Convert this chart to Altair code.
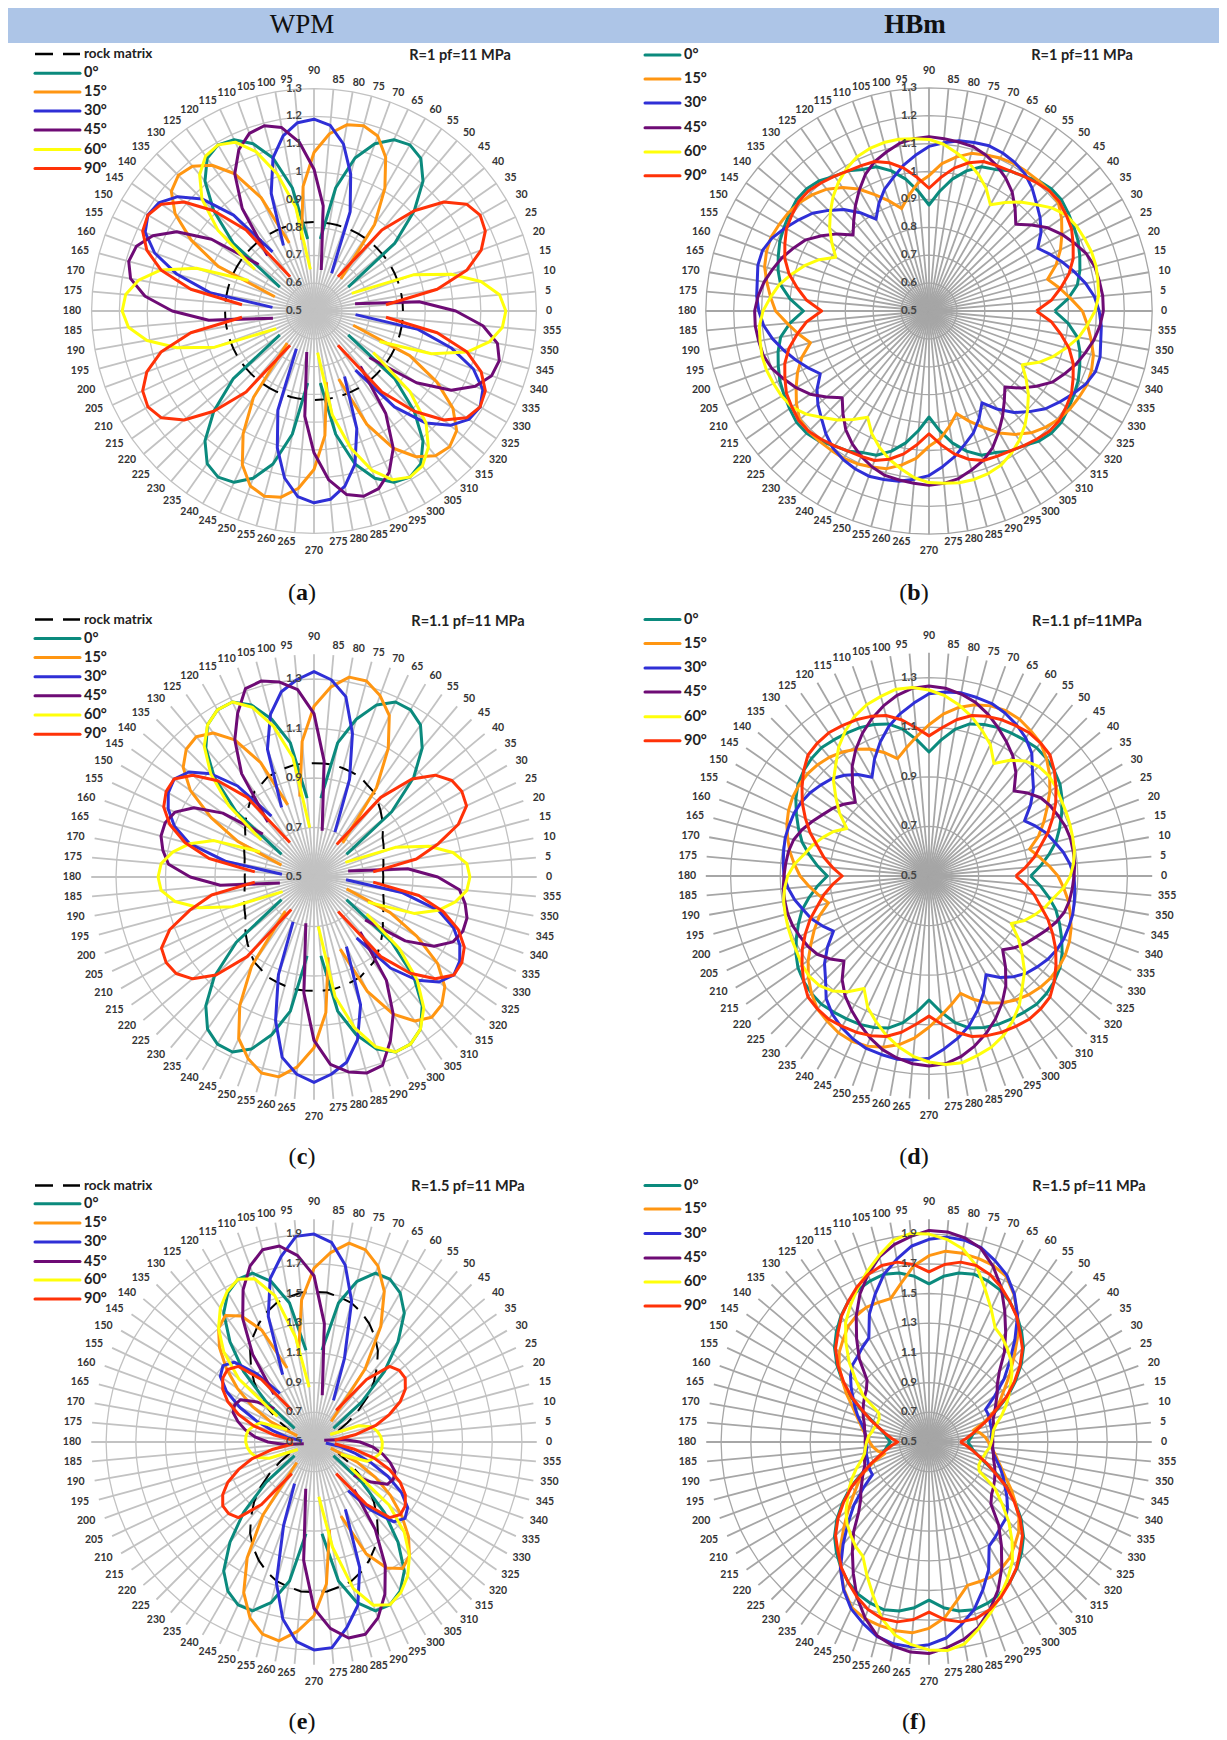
import math
import altair as alt
import pandas as pd

NAMES = ["0°", "15°", "30°", "45°", "60°", "90°"]
ANGLES = list(range(0, 360, 5))

# ---- WPM panel (a): lobe values, rising and falling, and start angles
A_UP = [.65, .88, 1.01, 1.11, 1.17, 1.19, 1.18, 1.14, 1.07, .95, .76]
A_DN = [.76, .95, 1.07, 1.14, 1.18, 1.19, 1.17, 1.11, 1.01, .88, .65]
A_LOBES = [
    [(35, A_UP), (95, A_DN)],
    [(50, A_UP), (110, A_DN)],
    [(65, A_UP), (125, A_DN)],
    [(80, A_UP), (140, A_DN)],
    [(95, A_UP), (155, A_DN)],
    [(5, A_DN), (125, A_UP)],
]
A_ROCK = [.82] * 36

# ---- WPM panel (c)
C0a = [.66, .91, 1.07, 1.18, 1.25, 1.28, 1.28, 1.24, 1.16, 1.05, .82]
C0b = [.82, 1.05, 1.16, 1.24, 1.28, 1.28, 1.25, 1.18, 1.07, .91, .66]
C15a = [.68, .94, 1.10, 1.22, 1.28, 1.32, 1.32, 1.27, 1.19, 1.05, .83]
C15b = [.81, 1.01, 1.14, 1.21, 1.24, 1.23, 1.19, 1.11, .98, .84, .64]
C30a = [.70, .92, 1.10, 1.24, 1.30, 1.33, 1.30, 1.26, 1.18, 1.05, .81]
C30b = [.80, .98, 1.09, 1.16, 1.19, 1.18, 1.15, 1.10, 1.02, .86, .63]
C45a = [.69, .97, 1.16, 1.26, 1.30, 1.32, 1.31, 1.23, 1.14, 1.01, .79]
C45b = [.77, .95, 1.06, 1.12, 1.14, 1.14, 1.12, 1.09, 1.0, .88, .64]
C60a = [.70, .99, 1.13, 1.23, 1.28, 1.28, 1.25, 1.19, 1.09, .95, .76]
C60b = [.74, .93, 1.02, 1.08, 1.12, 1.13, 1.12, 1.07, .98, .85, .64]
C90a = [.74, .92, 1.02, 1.12, 1.18, 1.19, 1.18, 1.14, 1.06, .92, .66]
C90b = [.67, .92, 1.05, 1.14, 1.19, 1.19, 1.17, 1.12, 1.04, .93, .74]
C_LOBES = [
    [(35, C0a), (95, C0b)],
    [(50, C15a), (110, C15b)],
    [(65, C30a), (125, C30b)],
    [(80, C45a), (140, C45b)],
    [(95, C60a), (155, C60b)],
    [(5, C90a), (125, C90b)],
]
C_ROCK = [.78, .78, .785, .79, .80, .81, .82, .84, .86, .88, .90, .92,
          .93, .945, .95, .955, .96, .96, .96, .96, .96, .955, .95, .945,
          .93, .92, .90, .88, .86, .84, .82, .81, .80, .79, .785, .78]

# ---- WPM panel (e)
E0a = [.66, .92, 1.17, 1.38, 1.56, 1.66, 1.71, 1.71, 1.62, 1.45, 1.12]
E0b = [1.12, 1.45, 1.62, 1.71, 1.71, 1.66, 1.56, 1.38, 1.17, .92, .66]
E15a = [.68, 1.10, 1.40, 1.62, 1.76, 1.84, 1.86, 1.78, 1.67, 1.46, 1.10]
E15b = [1.03, 1.33, 1.48, 1.54, 1.50, 1.40, 1.27, 1.13, .98, .82, .62]
E30a = [.81, 1.10, 1.48, 1.71, 1.85, 1.90, 1.89, 1.77, 1.64, 1.40, 1.0]
E30b = [.90, 1.10, 1.26, 1.30, 1.27, 1.18, 1.05, .91, .78, .68, .58]
E45a = [.82, 1.30, 1.62, 1.76, 1.84, 1.84, 1.76, 1.63, 1.46, 1.22, .92]
E45b = [.85, .97, 1.07, 1.09, 1.08, 1.03, .97, .90, .81, .70, .57]
E60a = [.87, 1.22, 1.52, 1.67, 1.71, 1.67, 1.60, 1.50, 1.36, 1.16, .80]
E60b = [.70, .88, .92, .95, .96, .96, .95, .93, .90, .82, .62]
E90a = [.64, .78, .93, 1.04, 1.14, 1.21, 1.25, 1.25, 1.22, 1.05, .76]
E90b = [.76, 1.05, 1.22, 1.26, 1.25, 1.21, 1.14, 1.04, .92, .77, .64]
E_LOBES = [
    [(35, E0a), (95, E0b)],
    [(50, E15a), (110, E15b)],
    [(65, E30a), (125, E30b)],
    [(80, E45a), (140, E45b)],
    [(95, E60a), (155, E60b)],
    [(5, E90a), (125, E90b)],
]
E_ROCK = [None, None, None, None, None, .68, .76, .86, .97, 1.07, 1.16, 1.25,
          1.32, 1.38, 1.43, 1.47, 1.49, 1.51, 1.51, 1.51, 1.49, 1.47, 1.43, 1.38,
          1.32, 1.25, 1.16, 1.07, .97, .86, .76, .68, None, None, None, None]

# ---- HBm panel (b): values for 0, 5, ... 175 degrees
B0 = [.95, 1.00, 1.04, 1.06, 1.075, 1.09, 1.10, 1.11, 1.12, 1.12, 1.11, 1.09,
      1.08, 1.06, 1.05, 1.02, .98, .93, .88, .93, .98, 1.02, 1.05, 1.06,
      1.08, 1.09, 1.11, 1.12, 1.12, 1.11, 1.10, 1.09, 1.075, 1.06, 1.04, 1.00]
B15 = [1.05, 1.01, .975, .94, .985, 1.02, 1.05, 1.08, 1.105, 1.11, 1.11, 1.11,
       1.11, 1.105, 1.095, 1.085, 1.06, 1.03, .985, .96, .92, .88, .92, .96,
       1.005, 1.04, 1.07, 1.09, 1.105, 1.115, 1.12, 1.125, 1.12, 1.11, 1.09, 1.07]
B30 = [1.11, 1.095, 1.07, 1.04, 1.01, .98, .95, .99, 1.02, 1.045, 1.075, 1.10,
       1.115, 1.125, 1.13, 1.125, 1.12, 1.105, 1.09, 1.06, 1.03, .995, .965, .925,
       .88, .93, .975, 1.01, 1.045, 1.07, 1.095, 1.12, 1.135, 1.135, 1.125, 1.12]
B45 = [1.125, 1.125, 1.12, 1.115, 1.10, 1.075, 1.05, 1.02, .98, .94, .98, 1.02,
       1.05, 1.075, 1.095, 1.11, 1.115, 1.12, 1.125, 1.12, 1.11, 1.09, 1.07, 1.04,
       1.0, .96, .92, .885, .93, .97, 1.01, 1.035, 1.06, 1.08, 1.10, 1.115]
B60 = [1.095, 1.11, 1.115, 1.12, 1.12, 1.115, 1.11, 1.10, 1.075, 1.04, 1.01, .975,
       .94, .985, 1.02, 1.05, 1.075, 1.10, 1.115, 1.12, 1.125, 1.125, 1.12, 1.11,
       1.09, 1.065, 1.035, 1.0, .965, .925, .886, .935, .975, 1.01, 1.045, 1.07]
B90 = [.885, .94, .98, 1.02, 1.05, 1.07, 1.09, 1.10, 1.11, 1.11, 1.10, 1.09,
       1.08, 1.075, 1.07, 1.05, 1.02, .98, .94, .98, 1.02, 1.05, 1.07, 1.075,
       1.08, 1.09, 1.10, 1.11, 1.11, 1.10, 1.09, 1.07, 1.05, 1.02, .98, .94]

# ---- HBm panel (d)
D0 = [.91, .95, .99, 1.03, 1.06, 1.09, 1.12, 1.145, 1.16, 1.17, 1.175, 1.17,
      1.165, 1.16, 1.15, 1.135, 1.10, 1.05, 1.0, 1.05, 1.10, 1.135, 1.15, 1.16,
      1.165, 1.17, 1.175, 1.17, 1.16, 1.145, 1.12, 1.09, 1.06, 1.03, .99, .95]
D15 = [1.02, .985, .95, .92, .97, 1.01, 1.05, 1.095, 1.135, 1.17, 1.20, 1.215,
       1.23, 1.235, 1.23, 1.215, 1.19, 1.155, 1.11, 1.065, 1.025, .99, 1.03, 1.065,
       1.09, 1.11, 1.125, 1.135, 1.14, 1.14, 1.135, 1.125, 1.11, 1.09, 1.07, 1.045]
D30 = [1.085, 1.07, 1.05, 1.025, 1.005, .975, .945, 1.0, 1.05, 1.09, 1.145, 1.18,
       1.205, 1.225, 1.24, 1.245, 1.25, 1.245, 1.235, 1.20, 1.165, 1.125, 1.075, 1.02,
       .96, 1.0, 1.03, 1.055, 1.07, 1.085, 1.095, 1.10, 1.10, 1.10, 1.095, 1.09]
D45 = [1.085, 1.09, 1.09, 1.09, 1.085, 1.075, 1.065, 1.05, 1.02, .985, 1.045, 1.09,
       1.125, 1.16, 1.195, 1.225, 1.245, 1.26, 1.266, 1.26, 1.24, 1.21, 1.175, 1.135,
       1.09, 1.04, .98, .92, .95, .975, .995, 1.02, 1.045, 1.065, 1.075, 1.08]
D60 = [1.07, 1.085, 1.095, 1.10, 1.105, 1.11, 1.115, 1.125, 1.13, 1.125, 1.105, 1.07,
       1.024, 1.085, 1.125, 1.165, 1.20, 1.23, 1.25, 1.263, 1.265, 1.25, 1.235, 1.21,
       1.175, 1.135, 1.085, 1.045, .99, .94, .883, .925, .955, .985, 1.01, 1.045]
D90 = [.85, .89, .93, .965, 1.01, 1.05, 1.09, 1.125, 1.16, 1.19, 1.20, 1.205,
       1.20, 1.195, 1.185, 1.17, 1.14, 1.10, 1.065, 1.10, 1.14, 1.17, 1.185, 1.195,
       1.20, 1.205, 1.20, 1.19, 1.16, 1.125, 1.09, 1.05, 1.01, .965, .93, .89]

# ---- HBm panel (f)
F0 = [.76, .78, .80, .84, .90, 1.0, 1.11, 1.21, 1.31, 1.40, 1.47, 1.535,
      1.59, 1.63, 1.655, 1.67, 1.655, 1.62, 1.565, 1.62, 1.655, 1.67, 1.655, 1.63,
      1.59, 1.535, 1.47, 1.40, 1.31, 1.21, 1.11, 1.0, .90, .84, .80, .78]
F15 = [.90, .88, .85, .81, .90, .98, 1.05, 1.12, 1.21, 1.31, 1.43, 1.54,
       1.645, 1.73, 1.765, 1.78, 1.79, 1.79, 1.755, 1.69, 1.585, 1.50, 1.50, 1.50,
       1.48, 1.45, 1.40, 1.355, 1.29, 1.21, 1.14, 1.07, 1.02, .98, .95, .92]
F30 = [.92, .92, .93, .93, .935, .94, .94, 1.04, 1.16, 1.27, 1.40, 1.54,
       1.65, 1.74, 1.80, 1.855, 1.88, 1.885, 1.865, 1.825, 1.75, 1.67, 1.56, 1.45,
       1.31, 1.28, 1.25, 1.23, 1.19, 1.14, 1.09, 1.05, 1.01, .97, .94, .93]
F45 = [.93, .93, .94, .95, .96, .99, 1.02, 1.06, 1.10, 1.17, 1.29, 1.40,
       1.52, 1.65, 1.76, 1.85, 1.895, 1.92, 1.925, 1.89, 1.85, 1.79, 1.70, 1.60,
       1.48, 1.35, 1.23, 1.09, 1.05, 1.03, 1.01, .99, .97, .95, .94, .93]
F60 = [.92, .93, .94, .97, 1.02, 1.07, 1.12, 1.17, 1.23, 1.28, 1.32, 1.36,
       1.39, 1.49, 1.60, 1.73, 1.82, 1.87, 1.90, 1.91, 1.88, 1.80, 1.72, 1.64,
       1.56, 1.48, 1.37, 1.26, 1.14, 1.04, .89, .87, .87, .88, .89, .91]
F90 = [.71, .75, .79, .84, .91, .99, 1.10, 1.20, 1.30, 1.39, 1.455, 1.53,
       1.59, 1.65, 1.70, 1.73, 1.73, 1.70, 1.645, 1.70, 1.73, 1.73, 1.70, 1.65,
       1.59, 1.53, 1.455, 1.39, 1.30, 1.20, 1.10, .99, .91, .84, .79, .75]

TICKS_AB = [.5, .6, .7, .8, .9, 1.0, 1.1, 1.2, 1.3]
TICK_TEXT_AB = ["0.5", "0.6", "0.7", "0.8", "0.9", "1", "1.1", "1.2", "1.3"]
TICKS_CD = [.5, .7, .9, 1.1, 1.3]
TICK_TEXT_CD = ["0.5", "0.7", "0.9", "1.1", "1.3"]
TICKS_EF = [.5, .7, .9, 1.1, 1.3, 1.5, 1.7, 1.9]
TICK_TEXT_EF = ["0.5", "0.7", "0.9", "1.1", "1.3", "1.5", "1.7", "1.9"]

COL_ORANGE, COL_PURPLE, COL_YELLOW, COL_RED = "#ff9612", "#6e0b75", "#ffff0a", "#ff3208"
ROW_BLUE = ["#2f2fd6", "#3434f4", "#3434f4"]
COL_GREEN = ["#0b8a7d", "#04695e"]

LABEL_FONT = "Lato"
SERIF = "Liberation Serif"
ROW_Y0 = [43, 610, 1170]
ROW_H = [567, 560, 562]
COL_X0 = [8, 618]
COL_W = [610, 601]


def panel(col, row, cx, cy, k, vmax, ticks, tick_text, title, title_xy, letter, cap_xy,
          legend_ys, rock_y=None, rock=None, lobes=None, curves=None):
    x0, y0, W, H = COL_X0[col], ROW_Y0[row], COL_W[col], ROW_H[row]
    px = lambda X: (X - x0 - cx) / k
    py = lambda Y: (cy - (Y - y0)) / k
    xs = alt.Scale(domain=[-cx / k, (W - cx) / k], nice=False, zero=False)
    ys = alt.Scale(domain=[(cy - H) / k, cy / k], nice=False, zero=False)
    X = lambda f: alt.X(f, type="quantitative", scale=xs, axis=None)
    Y = lambda f: alt.Y(f, type="quantitative", scale=ys, axis=None)
    colors = [COL_GREEN[col], COL_ORANGE, ROW_BLUE[row], COL_PURPLE, COL_YELLOW, COL_RED]
    grid_col = "#c2c2c2" if col == 0 else "#a6a6a6"
    col_scale = alt.Scale(domain=NAMES, range=colors)
    cos = lambda a: math.cos(math.radians(a))
    sin = lambda a: math.sin(math.radians(a))

    spokes = pd.DataFrame([{"x": 0.0, "y": 0.0, "x2": (vmax - .5) * cos(a), "y2": (vmax - .5) * sin(a)} for a in ANGLES])
    layers = [alt.Chart(spokes).mark_rule(color=grid_col, strokeWidth=1.8).encode(
        x=X("x"), y=Y("y"), x2=alt.X2("x2"), y2=alt.Y2("y2"))]

    ring_rows = []
    for t in ticks[1:]:
        for i, a in enumerate(ANGLES + [360]):
            ring_rows.append({"x": (t - .5) * cos(a), "y": (t - .5) * sin(a), "level": t, "i": i})
    layers.append(alt.Chart(pd.DataFrame(ring_rows)).mark_line(color=grid_col, strokeWidth=1.3).encode(
        x=X("x"), y=Y("y"), detail="level:N", order="i:Q"))

    label_rows = []
    for a in ANGLES:
        t = str(a)
        if a in (90, 270):
            lx, ly = 0.0, 240 * sin(a)
        else:
            shift = 0 if len(t) == 1 else (4 if cos(a) > 0 else -7)
            lx, ly = 235 * cos(a) + shift, 232 * sin(a)
        label_rows.append({"x": lx / k, "y": ly / k, "t": t})
    layers.append(alt.Chart(pd.DataFrame(label_rows)).mark_text(
        font=LABEL_FONT, fontWeight="bold", fontSize=10.5, color="#333333", baseline="middle", align="center").encode(
        x=X("x"), y=Y("y"), text="t:N"))

    if rock is not None:
        rock_rows = []
        values = rock + rock + rock[:1]
        for i, v in enumerate(values):
            a = i * 5
            if v is None:
                rock_rows.append({"x": None, "y": None, "i": i})
            else:
                rock_rows.append({"x": (v - .5) * cos(a), "y": (v - .5) * sin(a), "i": i})
        layers.append(alt.Chart(pd.DataFrame(rock_rows)).mark_line(
            color="black", strokeWidth=2, strokeDash=[18, 10]).encode(x=X("x"), y=Y("y"), order="i:Q"))

    rows = []
    seg = 0
    if lobes is not None:
        for name, pair in zip(NAMES, lobes):
            for turn in (0, 180):
                for start, vals in pair:
                    seg += 1
                    for j, v in enumerate(vals):
                        a = start + turn + 5 * j
                        rows.append({"x": (v - .5) * cos(a), "y": (v - .5) * sin(a), "series": name, "seg": seg, "i": j})
    else:
        for name, half in zip(NAMES, curves):
            seg += 1
            values = half + half + half[:1]
            for j, v in enumerate(values):
                a = 5 * j
                rows.append({"x": (v - .5) * cos(a), "y": (v - .5) * sin(a), "series": name, "seg": seg, "i": j})
    layers.append(alt.Chart(pd.DataFrame(rows)).mark_line(strokeWidth=3, strokeJoin="round").encode(
        x=X("x"), y=Y("y"), color=alt.Color("series:N", scale=col_scale, legend=None),
        detail="seg:N", order="i:Q"))

    # radial tick labels sit on top of the curves
    tick_df = pd.DataFrame({"x": [-12 / k] * len(ticks), "y": [t - .5 for t in ticks], "t": tick_text})
    layers.append(alt.Chart(tick_df).mark_text(
        font=LABEL_FONT, fontWeight="bold", fontSize=11.5, color="#444444", baseline="middle", align="right").encode(
        x=X("x"), y=Y("y"), text="t:N"))

    # legend
    rule_x = (35, 80) if col == 0 else (645, 680)
    text_x = 84 if col == 0 else 684
    leg = pd.DataFrame({"x": [px(rule_x[0])] * 6, "x2": [px(rule_x[1])] * 6,
                        "tx": [px(text_x)] * 6, "y": [py(v) for v in legend_ys], "series": NAMES})
    layers.append(alt.Chart(leg).mark_rule(strokeWidth=3, strokeCap="round").encode(
        x=X("x"), x2=alt.X2("x2"), y=Y("y"), color=alt.Color("series:N", scale=col_scale, legend=None)))
    layers.append(alt.Chart(leg).mark_text(
        font=LABEL_FONT, fontWeight="bold", fontSize=14.5, color="#222222", align="left", baseline="middle").encode(
        x=X("tx"), y=Y("y"), text="series:N"))
    if rock_y is not None:
        rl = pd.DataFrame({"x": [px(rule_x[0])], "x2": [px(rule_x[1])], "tx": [px(text_x)], "y": [py(rock_y)], "t": ["rock matrix"]})
        layers.append(alt.Chart(rl).mark_rule(color="black", strokeWidth=2.5, strokeDash=[18, 10]).encode(
            x=X("x"), x2=alt.X2("x2"), y=Y("y")))
        layers.append(alt.Chart(rl).mark_text(
            font=LABEL_FONT, fontWeight="bold", fontSize=13.5, color="#222222", align="left", baseline="middle").encode(
            x=X("tx"), y=Y("y"), text="t:N"))

    # panel heading and caption
    td = pd.DataFrame({"x": [px(title_xy[0])], "y": [py(title_xy[1])], "t": [title]})
    layers.append(alt.Chart(td).mark_text(
        font=LABEL_FONT, fontWeight="bold", fontSize=14.5, color="#222222", align="center", baseline="middle").encode(
        x=X("x"), y=Y("y"), text="t:N"))
    half = {"a": 6, "b": 6.7, "c": 5.4, "d": 6.7, "e": 5.4, "f": 4}[letter]
    par = pd.DataFrame({"x": [px(cap_xy[0] - half - 4), px(cap_xy[0] + half + 4)],
                        "y": [py(cap_xy[1])] * 2, "t": ["(", ")"]})
    layers.append(alt.Chart(par).mark_text(
        font=SERIF, fontSize=24, color="#111111", align="center", baseline="middle").encode(
        x=X("x"), y=Y("y"), text="t:N"))
    let = pd.DataFrame({"x": [px(cap_xy[0])], "y": [py(cap_xy[1])], "t": [letter]})
    layers.append(alt.Chart(let).mark_text(
        font=SERIF, fontWeight="bold", fontSize=24, color="#111111", align="center", baseline="middle").encode(
        x=X("x"), y=Y("y"), text="t:N"))
    return alt.layer(*layers).properties(width=W, height=H)


pa = panel(0, 0, 306, 268, 278, 1.3, TICKS_AB, TICK_TEXT_AB, "R=1 pf=11 MPa", (460, 56), "a", (302, 593),
           [73.3, 92, 111, 130, 149.5, 168.5], rock_y=54, rock=A_ROCK, lobes=A_LOBES)
pb = panel(1, 0, 311, 268, 279, 1.3, TICKS_AB, TICK_TEXT_AB, "R=1 pf=11 MPa", (1082, 56), "b", (914, 593),
           [55, 79, 103, 127.7, 152, 175.7], curves=[B0, B15, B30, B45, B60, B90])
pc = panel(0, 1, 306, 267, 247.5, 1.4, TICKS_CD, TICK_TEXT_CD, "R=1.1 pf=11 MPa", (468, 622), "c", (302, 1157),
           [638.6, 657.5, 676.8, 695.7, 715, 734.3], rock_y=619.6, rock=C_ROCK, lobes=C_LOBES)
pd_ = panel(1, 1, 311, 266, 248, 1.4, TICKS_CD, TICK_TEXT_CD, "R=1.1 pf=11MPa", (1087, 622), "d", (914, 1157),
            [619.6, 643.6, 667.9, 692, 716.8, 740.7], curves=[D0, D15, D30, D45, D60, D90])
pe = panel(0, 2, 306, 272, 148.5, 2.0, TICKS_EF, TICK_TEXT_EF, "R=1.5 pf=11 MPa", (468, 1187), "e", (302, 1722),
           [1203.8, 1223, 1242, 1261.6, 1280, 1299], rock_y=1185.6, rock=E_ROCK, lobes=E_LOBES)
pf = panel(1, 2, 311, 272, 148.5, 2.0, TICKS_EF, TICK_TEXT_EF, "R=1.5 pf=11 MPa", (1089, 1187), "f", (914, 1722),
           [1185.6, 1209, 1233.6, 1258, 1282, 1306], curves=[F0, F15, F30, F45, F60, F90])

HEAD_W, HEAD_H = 1211, 35
head_df = pd.DataFrame({"t": ["WPM"], "u": ["HBm"]})
band = alt.Chart(head_df).mark_rect(color="#adc5e7").encode(
    x=alt.value(0), x2=alt.value(HEAD_W), y=alt.value(0), y2=alt.value(HEAD_H))
wpm = alt.Chart(head_df).mark_text(font=SERIF, fontSize=27, color="#111111", baseline="middle", align="center").encode(
    x=alt.value(294), y=alt.value(17), text="t:N")
hbm = alt.Chart(head_df).mark_text(font=SERIF, fontSize=27, fontWeight="bold", color="#111111", baseline="middle", align="center").encode(
    x=alt.value(907), y=alt.value(17), text="u:N")
header = alt.layer(band, wpm, hbm).properties(width=HEAD_W, height=HEAD_H)

chart = alt.vconcat(
    header,
    alt.hconcat(pa, pb, spacing=0),
    alt.hconcat(pc, pd_, spacing=0),
    alt.hconcat(pe, pf, spacing=0),
    spacing=0,
).properties(padding=0).configure_view(stroke=None)

chart.save("out.html", embed_options={"renderer": "svg", "actions": False})
